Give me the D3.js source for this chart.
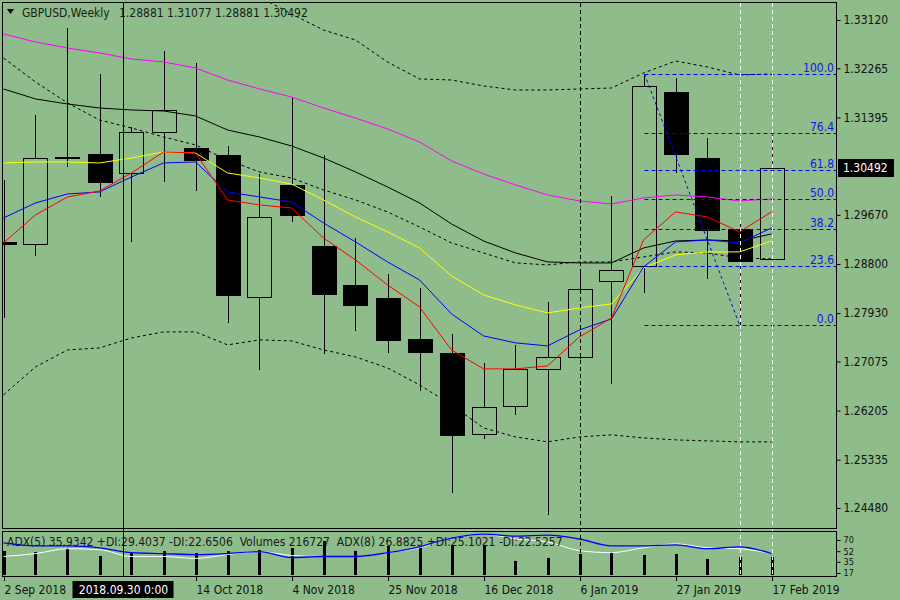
<!DOCTYPE html>
<html>
<head>
<meta charset="utf-8">
<script src="https://cdn.jsdelivr.net/npm/d3@7"></script>
<style>
body { margin: 0; background: #8fbc8b; }
svg text { font-family: "DejaVu Sans Condensed", "DejaVu Sans", sans-serif; font-size: 12px; }
</style>
</head>
<body>
<div id="chart"></div>
<script>
// weekly GBPUSD bars
const dates = ["2018-09-02","2018-09-09","2018-09-16","2018-09-23","2018-09-30","2018-10-07","2018-10-14","2018-10-21","2018-10-28","2018-11-04","2018-11-11","2018-11-18","2018-11-25","2018-12-02","2018-12-09","2018-12-16","2018-12-23","2018-12-30","2019-01-06","2019-01-13","2019-01-20","2019-01-27","2019-02-03","2019-02-10","2019-02-17"];
const open  = [1.29191,1.29156,1.30677,1.30748,1.30412,1.31138,1.30854,1.30731,1.28217,1.30200,1.29120,1.28430,1.28199,1.27474,1.27226,1.25792,1.26288,1.26943,1.27155,1.28500,1.28766,1.31846,1.30677,1.29421,1.28881];
const high  = [1.30288,1.31439,1.32978,1.32164,1.31226,1.32571,1.32359,1.30890,1.30394,1.31739,1.30730,1.29262,1.28624,1.28376,1.27562,1.27049,1.27368,1.28129,1.28660,1.30005,1.32164,1.32094,1.31031,1.29580,1.31077];
const low   = [1.27846,1.28943,1.30518,1.29987,1.29191,1.30253,1.30093,1.27757,1.26925,1.29545,1.27208,1.27615,1.27226,1.26553,1.24748,1.25704,1.26129,1.24359,1.27120,1.26677,1.28288,1.30412,1.28536,1.27722,1.28881];
const close = [1.29156,1.30677,1.30695,1.30253,1.31138,1.31527,1.30642,1.28253,1.29633,1.29669,1.28270,1.28076,1.27460,1.27244,1.25775,1.26270,1.26943,1.27155,1.28359,1.28695,1.31952,1.30748,1.29403,1.28854,1.30492];
const volume = [288950,277100,325300,228700,265400,289200,264800,288600,301400,325100,409200,289500,349100,337300,361000,361400,168900,205200,252800,277300,240900,253100,192700,217200,216727];

// moving averages and bands on the price chart
const maRed     = [1.29173,1.29669,1.29987,1.30093,1.30412,1.30784,1.30766,1.29934,1.29846,1.29792,1.29261,1.28872,1.28430,1.28040,1.27279,1.26943,1.26943,1.26996,1.27509,1.27845,1.29226,1.29722,1.29633,1.29368,1.29722];
const maBlue    = [1.29615,1.29881,1.30040,1.30076,1.30341,1.30589,1.30607,1.30076,1.29987,1.29899,1.29527,1.29191,1.28837,1.28518,1.27916,1.27527,1.27403,1.27350,1.27633,1.27828,1.28748,1.29191,1.29226,1.29173,1.29438];
const maYellow  = [1.30589,1.30607,1.30607,1.30589,1.30677,1.30784,1.30766,1.30412,1.30323,1.30217,1.29934,1.29633,1.29368,1.29084,1.28589,1.28253,1.28076,1.27934,1.28022,1.28093,1.28730,1.28961,1.29014,1.29014,1.29208];
const maBlack   = [1.31899,1.31722,1.31633,1.31562,1.31527,1.31509,1.31421,1.31173,1.31049,1.30890,1.30677,1.30430,1.30164,1.29881,1.29509,1.29208,1.28996,1.28837,1.28819,1.28819,1.29084,1.29208,1.29226,1.29208,1.29332];
const maMagenta = [1.32872,1.32731,1.32624,1.32536,1.32430,1.32377,1.32270,1.32058,1.31899,1.31757,1.31562,1.31385,1.31191,1.30961,1.30624,1.30394,1.30200,1.30023,1.29916,1.29863,1.29969,1.30023,1.29987,1.29916,1.29952];
const bbUpper   = [1.38430,1.37014,1.36041,1.35386,1.34925,1.34501,1.34217,1.33917,1.33527,1.33226,1.32943,1.32766,1.32377,1.32076,1.32058,1.31952,1.31881,1.31881,1.31899,1.31916,1.32182,1.32394,1.32288,1.32147,1.32164];
const bbMid     = [1.32447,1.32023,1.31651,1.31350,1.31208,1.31049,1.30908,1.30642,1.30430,1.30323,1.30111,1.29934,1.29722,1.29456,1.29173,1.28996,1.28819,1.28784,1.28837,1.28837,1.28925,1.29014,1.28996,1.28907,1.28890];
const bbLower   = [1.26483,1.26978,1.27279,1.27314,1.27491,1.27598,1.27598,1.27368,1.27456,1.27438,1.27279,1.27155,1.26960,1.26660,1.26306,1.25898,1.25739,1.25651,1.25739,1.25775,1.25721,1.25686,1.25668,1.25651,1.25651];

// lower window lines
const adxBlue  = [65.3,60.6,60.6,57.5,49.7,48.2,46.6,48.2,51.3,41.9,43.5,43.5,49.7,59.1,73.1,79.4,76.2,77.8,71.6,60.6,60.6,62.2,56.0,59.1,48.2];
const adxWhite = [43.5,48.2,56.0,54.4,43.5,43.5,40.4,46.6,51.3,45.1,43.5,43.5,49.7,57.5,73.1,79.4,71.6,66.9,52.9,49.7,57.5,63.8,57.5,56.0,48.2];

const priceTicks = [1.33120,1.32265,1.31395,1.29670,1.28800,1.27930,1.27075,1.26205,1.25335,1.24480];
const subTicks = [70,52,35,17];
const timeTicks = ["2018-09-02","2018-10-14","2018-11-04","2018-11-25","2018-12-16","2019-01-06","2019-01-27","2019-02-17"];
const fibLevels = [0, 23.6, 38.2, 50.0, 61.8, 76.4, 100.0];
const headerSymbol = "GBPUSD,Weekly";
const headerOHLC = "1.28881 1.31077 1.28881 1.30492";
const subText = "ADX(5) 35.9342 +DI:29.4037 -DI:22.6506\u00a0\u00a0Volumes 216727\u00a0\u00a0ADX(8) 26.8825 +DI:25.1021 -DI:22.5257";

const W = 900, H = 600;
const main = { l: 3, r: 836, t: 3, b: 528 };
const sub = { t: 531, b: 576 };

const parse = d3.timeParse("%Y-%m-%d");
const bars = dates.map((d, i) => ({
	date: parse(d), o: open[i], h: high[i], l: low[i], c: close[i], v: volume[i]
}));

const svg = d3.select("#chart").append("svg").attr("width", W).attr("height", H);
svg.append("rect").attr("width", W).attr("height", H).attr("fill", "#8fbc8b");

const x = d3.scaleTime()
	.domain(d3.extent(bars, d => d.date))
	.range([3.5, 771.5]);
const y = d3.scaleLinear().domain([1.24480, 1.33120]).range([508, 20]);
const yAdx = d3.scaleLinear().domain([17, 70]).range([573, 540]);
const yVol = d3.scaleLinear().domain([0, d3.max(volume)]).range([575, 541]);

svg.append("defs").html(
	`<clipPath id="mainClip"><rect x="${main.l}" y="${main.t}" width="${main.r - main.l}" height="${main.b - main.t}"/></clipPath>` +
	`<clipPath id="subClip"><rect x="${main.l}" y="${sub.t}" width="${main.r - main.l}" height="${sub.b - sub.t}"/></clipPath>`
);

const mainG = svg.append("g").attr("clip-path", "url(#mainClip)");
const subG = svg.append("g").attr("clip-path", "url(#subClip)");
const px = v => Math.round(v) + 0.5;

// vertical markers (behind everything)
const markerG = svg.append("g");
const crossX = px(x(parse("2018-09-30")) - 8);
markerG.append("line").attr("x1", crossX).attr("x2", crossX).attr("y1", main.t).attr("y2", sub.b)
	.attr("stroke", "#000");
const sepX = px(x(parse("2019-01-06")));
markerG.append("line").attr("x1", sepX).attr("x2", sepX).attr("y1", main.t).attr("y2", sub.b)
	.attr("stroke", "#000").attr("stroke-dasharray", "4,3");
["2019-02-10", "2019-02-17"].forEach(d => {
	const xx = px(x(parse(d)));
	markerG.append("line").attr("x1", xx).attr("x2", xx).attr("y1", main.t).attr("y2", sub.b)
		.attr("stroke", "#fff").attr("stroke-dasharray", "4,3");
});

// candles
const candleG = mainG.append("g").attr("shape-rendering", "crispEdges");
candleG.selectAll("line.wick").data(bars).join("line")
	.attr("class", "wick")
	.attr("x1", d => px(x(d.date))).attr("x2", d => px(x(d.date)))
	.attr("y1", d => Math.round(y(d.h))).attr("y2", d => Math.round(y(d.l)))
	.attr("stroke", "#000");
candleG.selectAll("rect.body").data(bars).join("rect")
	.attr("class", "body")
	.attr("x", d => px(x(d.date)) - 12)
	.attr("y", d => px(y(Math.max(d.o, d.c))))
	.attr("width", 24)
	.attr("height", d => Math.max(1, Math.round(Math.abs(y(d.o) - y(d.c)))))
	.attr("fill", d => d.c >= d.o ? "#8fbc8b" : "#000")
	.attr("stroke", "#000");

// indicator lines
const line = d3.line().x((d, i) => x(bars[i].date)).y(d => y(d));
const series = [
	{ v: bbUpper, c: "#000", dash: "3,3" },
	{ v: bbMid, c: "#000", dash: "3,3" },
	{ v: bbLower, c: "#000", dash: "3,3" },
	{ v: maMagenta, c: "#ff00ff" },
	{ v: maBlack, c: "#000" },
	{ v: maYellow, c: "#ffff00" },
	{ v: maBlue, c: "#0000ff" },
	{ v: maRed, c: "#ff0000" }
];
mainG.selectAll("path.ma").data(series).join("path")
	.attr("class", "ma")
	.attr("d", d => line(d.v))
	.attr("fill", "none")
	.attr("stroke", d => d.c)
	.attr("stroke-width", 1)
	.attr("stroke-dasharray", d => d.dash || null);

// fibonacci retracement from the 20 Jan high to the 10 Feb low
const fibHi = high[20], fibLo = low[23];
const fibX0 = px(x(bars[20].date));
const fibG = mainG.append("g");
fibLevels.forEach(lv => {
	const yy = px(y(fibLo + (fibHi - fibLo) * lv / 100));
	fibG.append("line").attr("x1", fibX0).attr("x2", main.r).attr("y1", yy).attr("y2", yy)
		.attr("stroke", "#0000ff").attr("stroke-dasharray", "4,3");
	fibG.append("text").attr("x", main.r - 2).attr("y", yy - 3)
		.attr("text-anchor", "end").attr("fill", "#1515e6").text(lv.toFixed(1));
});
fibG.append("line")
	.attr("x1", fibX0).attr("y1", y(fibHi))
	.attr("x2", x(bars[23].date)).attr("y2", y(fibLo))
	.attr("stroke", "#0000ff").attr("stroke-dasharray", "3,3");

// lower window: volumes + two lines
subG.selectAll("rect.vol").data(bars).join("rect")
	.attr("class", "vol")
	.attr("x", d => Math.round(x(d.date)) - 1)
	.attr("y", d => yVol(d.v))
	.attr("width", 3)
	.attr("height", d => yVol(0) - yVol(d.v))
	.attr("fill", "#000");
const subLine = d3.line().x((d, i) => x(bars[i].date)).y(d => yAdx(d)).curve(d3.curveMonotoneX);
subG.append("path").attr("d", subLine(adxWhite)).attr("fill", "none").attr("stroke", "#fff");
subG.append("path").attr("d", subLine(adxBlue)).attr("fill", "none").attr("stroke", "#0000ff").attr("stroke-width", 1.3);
subG.append("text").attr("x", 7).attr("y", 546).attr("fill", "#1a1a1a").text(subText);

// frames
const frameG = svg.append("g").attr("shape-rendering", "crispEdges").attr("fill", "none").attr("stroke", "#000");
frameG.append("rect").attr("x", 2.5).attr("y", 2.5).attr("width", main.r - 2).attr("height", main.b - 2);
frameG.append("rect").attr("x", 2.5).attr("y", sub.t + 0.5).attr("width", main.r - 2).attr("height", sub.b - sub.t);

// price axis
const yAxisG = svg.append("g").attr("transform", `translate(${main.r + 0.5},0)`)
	.call(d3.axisRight(y).tickValues(priceTicks).tickFormat(d3.format(".5f")).tickSize(4).tickPadding(3));
yAxisG.select(".domain").remove();
yAxisG.selectAll("text").attr("fill", "#111").style("font-size", "12px").style("font-family", null);
yAxisG.selectAll("line").attr("stroke", "#000");

// current price tag
const lastY = y(close[close.length - 1]);
svg.append("rect").attr("x", 838).attr("y", Math.round(lastY) - 9).attr("width", 56).attr("height", 18).attr("fill", "#000");
svg.append("text").attr("x", 843).attr("y", Math.round(lastY) + 4).attr("fill", "#fff").text(d3.format(".5f")(close[close.length - 1]));

// lower window axis (labels sit tight, keep them small)
const subAxisG = svg.append("g").attr("transform", `translate(${main.r + 0.5},0)`)
	.call(d3.axisRight(yAdx).tickValues(subTicks).tickSize(4).tickPadding(3));
subAxisG.select(".domain").remove();
subAxisG.selectAll("text").attr("fill", "#111").style("font-size", "9px").style("font-family", null);

// time axis
const timeFmt = d3.timeFormat("%-d %b %Y");
const tAxisG = svg.append("g");
timeTicks.forEach(t => {
	const xx = px(x(parse(t)));
	tAxisG.append("line").attr("x1", xx).attr("x2", xx).attr("y1", sub.b).attr("y2", sub.b + 5).attr("stroke", "#000");
	tAxisG.append("text").attr("x", xx).attr("y", 594).attr("fill", "#111").text(timeFmt(parse(t)));
});
svg.append("rect").attr("x", crossX - 51).attr("y", 581).attr("width", 101).attr("height", 17).attr("fill", "#000");
svg.append("text").attr("x", crossX).attr("y", 594).attr("text-anchor", "middle").attr("fill", "#fff")
	.text(d3.timeFormat("%Y.%m.%d %-H:%M")(parse("2018-09-30")));

// header
svg.append("path").attr("d", "M7,9 L14,9 L10.5,14 Z").attr("fill", "#000");
svg.append("text").attr("x", 22).attr("y", 17).attr("fill", "#1a1a1a").text(headerSymbol);
svg.append("text").attr("x", 119).attr("y", 17).attr("fill", "#1a1a1a").text(headerOHLC);
</script>
</body>
</html>
